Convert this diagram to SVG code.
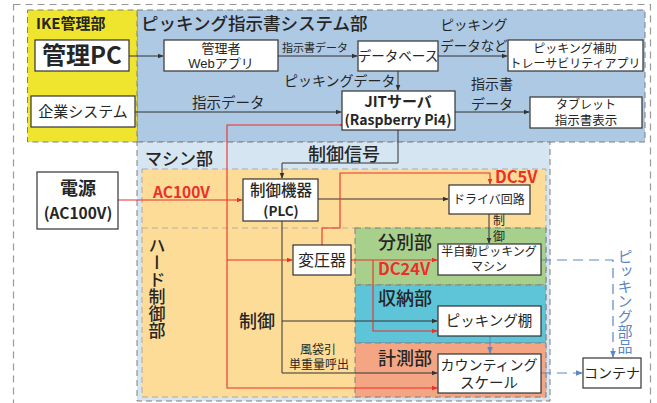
<svg xmlns="http://www.w3.org/2000/svg" width="657" height="403" viewBox="0 0 657 403">
<defs>
<style>
text{font-family:"Noto Sans CJK JP","Noto Sans",sans-serif;fill:#262626}
text.t2{font-family:"Liberation Sans","Noto Sans CJK JP",sans-serif}
.c{text-anchor:middle}
.b{font-weight:bold}
.box{fill:#fff;stroke:#333;stroke-width:1.2}
.ln{fill:none;stroke:#333;stroke-width:1}
.rd{fill:none;stroke:#ec2f2a;stroke-width:1.1}
.bl{fill:none;stroke:#5b87c7;stroke-width:1.2;stroke-dasharray:10,6}
.rt{fill:#ec2f2a;font-weight:bold}
.reg{stroke:#7f7f7f;stroke-width:1;stroke-dasharray:6,4}
</style>
<marker id="ak" viewBox="0 0 8 8" refX="7" refY="4" markerWidth="6" markerHeight="6" orient="auto" markerUnits="userSpaceOnUse"><path d="M0,0.8 L8,4 L0,7.2 Z" fill="#333"/></marker>
<marker id="ar" viewBox="0 0 8 8" refX="7" refY="4" markerWidth="6" markerHeight="6" orient="auto" markerUnits="userSpaceOnUse"><path d="M0,0.8 L8,4 L0,7.2 Z" fill="#ec2f2a"/></marker>
<marker id="ab" viewBox="0 0 8 8" refX="7" refY="4" markerWidth="7" markerHeight="7" orient="auto" markerUnits="userSpaceOnUse"><path d="M0,0.8 L8,4 L0,7.2 Z" fill="#5b87c7"/></marker>
</defs>
<rect x="0" y="0" width="657" height="403" fill="#fff"/>
<!-- regions -->
<g id="regions">
<rect x="13.5" y="4.5" width="637" height="410" fill="none" stroke="#999" stroke-width="1.2" stroke-dasharray="7,5"/>
<rect x="137" y="10" width="508" height="132" fill="#adc9e4" class="reg" stroke="#9aa"/>
<rect x="27.5" y="10" width="109.5" height="132" fill="#efe52f" class="reg"/>
<rect x="137" y="142" width="413" height="259" fill="#d5e5f2" class="reg"/>
<rect x="142" y="169" width="404" height="228" fill="#fddc98" stroke="#aaa" stroke-width="1" stroke-dasharray="6,4"/>
<line x1="142" y1="228" x2="546" y2="228" stroke="#b5b0a0" stroke-dasharray="6,4"/>
<rect x="355" y="228" width="191" height="57" fill="#a8d08d" class="reg"/>
<rect x="355" y="285" width="191" height="58" fill="#5ec4d7" class="reg"/>
<rect x="355" y="343" width="191" height="54" fill="#f4a684" class="reg"/>
<text x="36" y="29" class="b" font-size="15">IKE管理部</text>
<text x="141" y="30" font-size="17.5" font-weight="500">ピッキング指示書システム部</text>
<text x="145" y="165" font-size="17" font-weight="500">マシン部</text>
<text x="157" y="237" font-size="17" font-weight="500" style="writing-mode:vertical-rl">ハード制御部</text>
<text x="378" y="249" font-size="18" font-weight="500">分別部</text>
<text x="378" y="305" font-size="18" font-weight="500">収納部</text>
<text x="378" y="365" font-size="18" font-weight="500">計測部</text>
</g>
<!-- connectors -->
<g id="connectors">
<path class="ln" d="M129,56 H163" marker-end="url(#ak)"/>
<path class="ln" d="M278,56 H357" marker-end="url(#ak)"/>
<path class="ln" d="M438,56 H507" marker-end="url(#ak)"/>
<path class="ln" d="M398,71 V90" marker-end="url(#ak)"/>
<path class="ln" d="M135,112 H341" marker-end="url(#ak)"/>
<path class="ln" d="M455,112 H529" marker-end="url(#ak)"/>
<path class="ln" d="M398,130 V163 H282 V178" marker-end="url(#ak)"/>
<path class="ln" d="M318,199 H448" marker-end="url(#ak)"/>
<path class="ln" d="M489,214 V243" marker-end="url(#ak)"/>
<path class="ln" d="M282,221 V373"/>
<path class="ln" d="M282,321 H437" marker-end="url(#ak)"/>
<path class="ln" d="M282,373 H437" marker-end="url(#ak)"/>
<path d="M490,336 V353" fill="none" stroke="#5b87c7" stroke-width="1" marker-end="url(#ab)"/>
<path class="rd" d="M118,200 H242" marker-end="url(#ar)"/>
<path class="rd" d="M341,125 H227 V388 H437" marker-end="url(#ar)"/>
<path class="rd" d="M341,125 H340" marker-end="url(#ar)"/>
<path class="rd" d="M227,260 H292" marker-end="url(#ar)"/>
<path class="rd" d="M322,245 V228 H340 V173 H490 V184" marker-end="url(#ar)"/>
<path class="rd" d="M351,260 H437" marker-end="url(#ar)"/>
<path class="rd" d="M373,260 V331 H437" marker-end="url(#ar)"/>
<path class="bl" d="M541,260 H613 V357" marker-end="url(#ab)"/>
<path class="bl" d="M541,373 H582" marker-end="url(#ab)"/>
<text x="282" y="52" font-size="11">指示書データ</text>
<text x="284" y="86" font-size="14">ピッキングデータ</text>
<text class="c t2" font-size="13.5"><tspan x="474" y="30">ピッキング</tspan><tspan x="474" y="51">データなど</tspan></text>
<text x="192" y="108" font-size="14.5">指示データ</text>
<text class="c t2" font-size="14"><tspan x="492" y="89">指示書</tspan><tspan x="492" y="109">データ</tspan></text>
<text x="308" y="161" font-size="18" font-weight="500">制御信号</text>
<text x="153" y="198" class="rt" font-size="15.5">AC100V</text>
<text x="495" y="183" class="rt" font-size="16.5">DC5V</text>
<text x="378" y="275" class="rt" font-size="16.5">DC24V</text>
<text class="c t2" font-size="12"><tspan x="499" y="225">制</tspan><tspan x="499" y="241">御</tspan></text>
<text x="239" y="328" font-size="18" font-weight="500">制御</text>
<text class="c t2" font-size="12"><tspan x="318" y="354">風袋引</tspan><tspan x="319" y="369">単重量呼出</tspan></text>
<text x="625" y="249" font-size="15" style="writing-mode:vertical-rl;fill:#5b87c7">ピッキング部品</text>
</g>
<!-- nodes -->
<g id="kanri-pc"><rect class="box" x="35" y="40" width="94" height="31"/><text x="82" y="64" class="c b" font-size="24">管理PC</text></g>
<g id="kigyo"><rect class="box" x="31" y="96" width="104" height="31"/><text x="83" y="117" class="c" font-size="15">企業システム</text></g>
<g id="webapp"><rect class="box" x="164" y="40" width="114" height="31"/><text class="c t2" font-size="13"><tspan x="221" y="53">管理者</tspan><tspan x="221" y="68">Webアプリ</tspan></text></g>
<g id="db"><rect class="box" x="358" y="41" width="80" height="30"/><text x="398" y="61" class="c" font-size="13.5">データベース</text></g>
<g id="trace"><rect class="box" x="508" y="40" width="135" height="31"/><text class="c t2" font-size="12"><tspan x="575" y="53">ピッキング補助</tspan><tspan x="575" y="68">トレーサビリティアプリ</tspan></text></g>
<g id="jit"><rect class="box" x="342" y="91" width="113" height="39"/><text class="c b"><tspan x="398" y="107" font-size="15">JITサーバ</tspan><tspan x="398" y="125" font-size="14">(Raspberry Pi4)</tspan></text></g>
<g id="tablet"><rect class="box" x="530" y="97" width="112" height="31"/><text class="c t2"><tspan x="586" y="109" font-size="12">タブレット</tspan><tspan x="586" y="124.5" font-size="12.5">指示書表示</tspan></text></g>
<g id="power"><rect class="box" x="37" y="172" width="81" height="57"/><text class="c b"><tspan x="78" y="195" font-size="18">電源</tspan><tspan x="78" y="219" font-size="15.5">(AC100V)</tspan></text></g>
<g id="plc"><rect class="box" x="243" y="179" width="75" height="42"/><text class="c"><tspan x="281" y="196" font-size="15.5" font-weight="500">制御機器</tspan><tspan x="281" y="216" font-size="13.5" font-weight="bold">(PLC)</tspan></text></g>
<g id="driver"><rect class="box" x="449" y="185" width="81" height="29"/><text x="489" y="204" class="c" font-size="12">ドライバ回路</text></g>
<g id="trans"><rect class="box" x="293" y="245" width="58" height="30"/><text x="322" y="266" class="c" font-size="16">変圧器</text></g>
<g id="semi"><rect class="box" x="438" y="244" width="103" height="31"/><text class="c t2" font-size="12"><tspan x="489" y="256">半自動ピッキング</tspan><tspan x="489" y="271">マシン</tspan></text></g>
<g id="shelf"><rect class="box" x="438" y="306" width="103" height="30"/><text x="489" y="326" class="c" font-size="14.5">ピッキング棚</text></g>
<g id="scale"><rect class="box" x="438" y="354" width="103" height="39"/><text class="c t2"><tspan x="489" y="370" font-size="14">カウンティング</tspan><tspan x="489" y="388" font-size="14.5">スケール</tspan></text></g>
<g id="container"><rect class="box" x="583" y="358" width="58" height="30"/><text x="612" y="378" class="c" font-size="14">コンテナ</text></g>
</svg>
